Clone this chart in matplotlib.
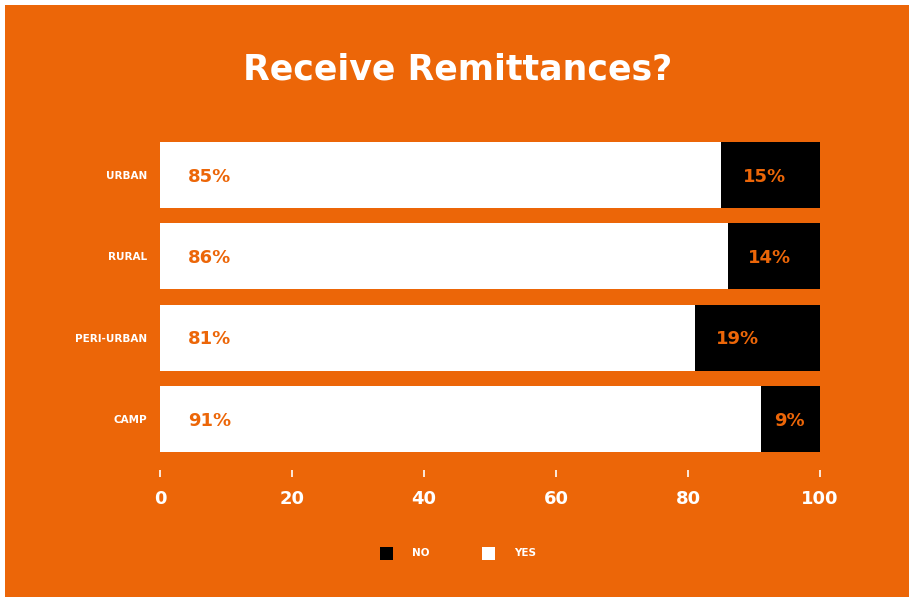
import matplotlib.pyplot as plt
from matplotlib.patches import Rectangle

# data
categories = ["URBAN", "RURAL", "PERI-URBAN", "CAMP"]
yes_values = [85, 86, 81, 91]
no_values = [15, 14, 19, 9]
x_ticks = [0, 20, 40, 60, 80, 100]

ORANGE = "#EC6608"
FONT = "DejaVu Sans"

W, H = 914, 597
fig = plt.figure(figsize=(W / 100, H / 100), dpi=100)
fig.patch.set_facecolor("white")

# orange panel
fig.patches.append(
    Rectangle((5 / W, 0), 904 / W, 592 / H, transform=fig.transFigure,
              facecolor=ORANGE, edgecolor="none", zorder=-5)
)

ax = fig.add_axes([160 / W, 1 - 452 / H, 660 / W, 310 / H])
ax.set_facecolor("none")
ax.set_zorder(2)
ax.spines["bottom"].set_position(("outward", 13))

bar_h = 0.815
pos = list(range(len(categories)))

ax.barh(pos, yes_values, height=bar_h, color="white", edgecolor="none")
ax.barh(pos, no_values, left=yes_values, height=bar_h, color="black",
        edgecolor="none")

for i in pos:
    ax.text(4.2, i + 0.02, f"{yes_values[i]}%", ha="left", va="center",
            color=ORANGE, fontsize=13, fontweight="bold", family=FONT)
    off = min(3.3, 0.22 * no_values[i])
    ax.text(yes_values[i] + off, i + 0.02, f"{no_values[i]}%", ha="left",
            va="center", color=ORANGE, fontsize=13, fontweight="bold",
            family=FONT)

ax.set_xlim(0, 100)
ax.set_ylim(len(categories) - 1 + bar_h / 2, -bar_h / 2)

ax.set_yticks(pos)
ax.set_yticklabels(categories, color="white", fontsize=7.5,
                   fontweight="bold", family=FONT)
ax.tick_params(axis="y", length=0, pad=9)

ax.set_xticks(x_ticks)
ax.set_xticklabels([str(t) for t in x_ticks], color="white", fontsize=13,
                   fontweight="bold", family=FONT)
ax.tick_params(axis="x", colors="white", length=5, width=1.2, pad=9)

for s in ax.spines.values():
    s.set_visible(False)

fig.text(458 / W, 1 - 70 / H, "Receive Remittances?", ha="center",
         va="center", color="white", fontsize=25, fontweight="bold",
         family=FONT)

# legend
leg_y = 1 - 553.5 / H
fig.patches.append(Rectangle((380 / W, leg_y - 6.5 / H), 13 / W, 13 / H,
                             transform=fig.transFigure, facecolor="black",
                             edgecolor="none"))
fig.text(412 / W, leg_y, "NO", ha="left", va="center", color="white",
         fontsize=7.5, fontweight="bold", family=FONT)
fig.patches.append(Rectangle((482 / W, leg_y - 6.5 / H), 13 / W, 13 / H,
                             transform=fig.transFigure, facecolor="white",
                             edgecolor="none"))
fig.text(514 / W, leg_y, "YES", ha="left", va="center", color="white",
         fontsize=7.5, fontweight="bold", family=FONT)

fig.savefig("out.png", dpi=100, facecolor=fig.get_facecolor())
